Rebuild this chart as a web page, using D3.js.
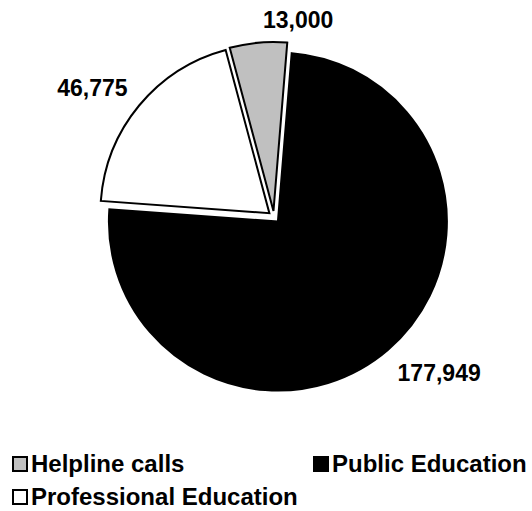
<!DOCTYPE html>
<html>
<head>
<meta charset="utf-8">
<script src="https://cdn.jsdelivr.net/npm/d3@7"></script>
<style>
  html, body { margin: 0; padding: 0; background: #fff; }
  svg { display: block; }
  text { font-family: "Liberation Sans", Arial, sans-serif; font-weight: bold; fill: #000; }
</style>
</head>
<body>
<svg id="chart" width="532" height="511"></svg>
<script>
const categories = ["Helpline calls", "Public Education", "Professional Education"];
const values = [13000, 177949, 46775];
const colors = ["#c0c0c0", "#000000", "#ffffff"];
const labels = ["13,000", "177,949", "46,775"];

const cx = 274, cy = 217, radius = 169, explode = 6, labelR = 190;
const startDeg = -15;

const svg = d3.select("#chart");
const pie = d3.pie().sort(null).value(d => d.value)
  .startAngle(startDeg * Math.PI / 180)
  .endAngle((startDeg + 360) * Math.PI / 180);
const data = categories.map((c, i) => ({ name: c, value: values[i], color: colors[i], label: labels[i] }));
const arcs = pie(data);
const arc = d3.arc().innerRadius(0).outerRadius(radius);

const g = svg.append("g").attr("transform", `translate(${cx},${cy})`);

g.selectAll("path.slice").data(arcs).join("path")
  .attr("class", "slice")
  .attr("transform", d => {
    const a = (d.startAngle + d.endAngle) / 2;
    return `translate(${explode * Math.sin(a)},${-explode * Math.cos(a)})`;
  })
  .attr("d", arc)
  .attr("fill", d => d.data.color)
  .attr("stroke", "#000")
  .attr("stroke-width", 2)
  .attr("stroke-linejoin", "miter");

const fs = 23;
g.selectAll("text.lbl").data(arcs).join("text")
  .attr("class", "lbl")
  .style("font-size", fs + "px")
  .each(function(d) {
    const a = (d.startAngle + d.endAngle) / 2;
    const x = labelR * Math.sin(a), y = -labelR * Math.cos(a);
    const t = d3.select(this).text(d.data.label);
    const nearVertical = Math.abs(Math.sin(a)) < 0.15;
    const right = Math.sin(a) >= 0 || nearVertical;
    t.attr("x", x + (nearVertical ? 6 : 0))
     .attr("y", Math.cos(a) > 0 ? y : y + fs * 0.72 + 3)
     .attr("text-anchor", right ? "start" : "end");
  });

// Legend
const lfs = 24;
const legendPos = [[11, 455], [312, 455], [11, 488]];
const items = svg.append("g").selectAll("g.item").data(data).join("g")
  .attr("class", "item")
  .attr("transform", (d, i) => `translate(${legendPos[i][0]},${legendPos[i][1]})`);
items.append("rect")
  .attr("x", 2).attr("y", 2).attr("width", 14).attr("height", 14)
  .attr("fill", d => d.color).attr("stroke", "#000").attr("stroke-width", 2);
items.append("text")
  .attr("x", 20).attr("y", 17)
  .style("font-size", lfs + "px")
  .text(d => d.name);
</script>
</body>
</html>
